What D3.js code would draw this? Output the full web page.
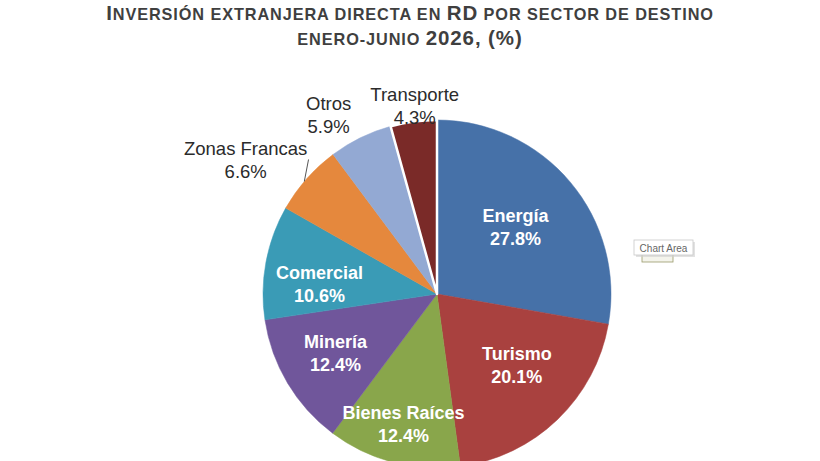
<!DOCTYPE html>
<html lang="es">
<head>
  <meta charset="UTF-8">
  <title>IED por sector de destino</title>
  <script src="https://cdnjs.cloudflare.com/ajax/libs/d3/7.8.5/d3.min.js"></script>
  <style>
    body { margin: 0; background: white; }
    svg { display: block; font-family: "Liberation Sans", Arial, sans-serif; }
  </style>
</head>
<body>
  <script>
    var sectores = ["Energía", "Turismo", "Bienes Raíces", "Minería", "Comercial", "Zonas Francas", "Otros", "Transporte"];
    var valores = [27.8, 20.1, 12.4, 12.4, 10.6, 6.6, 5.9, 4.3];
    var colores = ["#4671a8", "#a9413f", "#89a64b", "#70569b", "#3a9bb6", "#e5883d", "#93a9d3", "#7a2a28"];

    var w = 820, h = 461;
    var cx = 437, cy = 294, r = 174;

    // label placement: [radius, angle nudge in degrees, inside?]
    var etiquetas = {
      "Energía":       [104, -1, true],
      "Turismo":       [106, -5, true],
      "Bienes Raíces": [133, 0, true],
      "Minería":       [117, 1, true],
      "Comercial":     [118, -5, true],
      "Zonas Francas": [234, -6.3, false],
      "Otros":         [210, -5, false],
      "Transporte":    [190, 1, false]
    };

    var svg = d3.select("body").append("svg")
      .attr("width", w)
      .attr("height", h);

    // title in hand-made small caps: [text, big?]
    var linea1 = [["I", 1], ["NVERSIÓN EXTRANJERA DIRECTA EN ", 0], ["RD", 1], [" POR SECTOR DE DESTINO", 0]];
    var linea2 = [["ENERO-JUNIO ", 0], ["2026, (%)", 1]];

    function titulo(partes, y) {
      var t = svg.append("text")
        .attr("x", 410)
        .attr("y", y)
        .attr("text-anchor", "middle")
        .attr("fill", "#3f3f3f")
        .attr("font-weight", "bold")
        .attr("letter-spacing", 0.9);
      t.selectAll("tspan")
        .data(partes)
        .enter()
        .append("tspan")
        .attr("font-size", function(d) { return d[1] ? 20.5 : 16.3; })
        .text(function(d) { return d[0]; });
    }
    titulo(linea1, 19.5);
    titulo(linea2, 45);

    var pie = d3.pie().sort(null).value(function(d) { return d; });
    var arcos = pie(valores);
    var arc = d3.arc().innerRadius(0).outerRadius(r);

    var g = svg.append("g").attr("transform", "translate(" + cx + "," + cy + ")");

    g.selectAll("path")
      .data(arcos)
      .enter()
      .append("path")
      .attr("d", arc)
      .attr("fill", function(d, i) { return colores[i]; })
      .attr("stroke", function(d, i) { return i == 7 ? "white" : colores[i]; })
      .attr("stroke-width", function(d, i) { return i == 7 ? 2.5 : 0.5; })
      .attr("stroke-linejoin", "round");

    function polar(rad, ang) {
      return [rad * Math.sin(ang), -rad * Math.cos(ang)];
    }

    // leader line for Zonas Francas
    var zf = arcos[5];
    var a0 = polar(r, (zf.startAngle + zf.endAngle) / 2 - 0.02);
    var a1 = polar(r + 12, (zf.startAngle + zf.endAngle) / 2 + 0.085);
    g.append("line")
      .attr("x1", a0[0]).attr("y1", a0[1])
      .attr("x2", a1[0]).attr("y2", a1[1])
      .attr("stroke", "#555")
      .attr("stroke-width", 1);

    function dentro(i) { return etiquetas[sectores[i]][2]; }

    var lab = g.selectAll("text.lab")
      .data(arcos)
      .enter()
      .append("text")
      .attr("class", "lab")
      .attr("text-anchor", "middle")
      .attr("font-size", function(d, i) { return dentro(i) ? 18 : 18.5; })
      .attr("font-weight", function(d, i) { return dentro(i) ? "bold" : "normal"; })
      .attr("fill", function(d, i) { return dentro(i) ? "white" : "#2b2b2b"; })
      .attr("transform", function(d, i) {
        var e = etiquetas[sectores[i]];
        var p = polar(e[0], (d.startAngle + d.endAngle) / 2 + e[1] * Math.PI / 180);
        return "translate(" + p[0] + "," + p[1] + ")";
      });
    lab.append("tspan").attr("x", 0).attr("y", -4)
      .text(function(d, i) { return sectores[i]; });
    lab.append("tspan").attr("x", 0).attr("y", 19)
      .text(function(d, i) { return valores[i].toFixed(1) + "%"; });

    // leftover "Chart Area" tooltip from the screenshot
    var tip = svg.append("g").attr("transform", "translate(634,240)");
    tip.append("rect").attr("x", 8).attr("y", 12).attr("width", 31).attr("height", 10)
      .attr("fill", "#f4f4ec").attr("stroke", "#9a9a6a").attr("stroke-width", 0.8);
    tip.append("rect").attr("x", 2).attr("y", 2).attr("width", 59).attr("height", 15)
      .attr("fill", "#cfcfcf").attr("opacity", 0.6);
    tip.append("rect").attr("width", 59).attr("height", 15)
      .attr("fill", "white").attr("stroke", "#c8c8c8").attr("stroke-width", 0.8);
    tip.append("text").attr("x", 29.5).attr("y", 11.5).attr("text-anchor", "middle")
      .attr("font-size", 10).attr("fill", "#666").text("Chart Area");
  </script>
</body>
</html>
